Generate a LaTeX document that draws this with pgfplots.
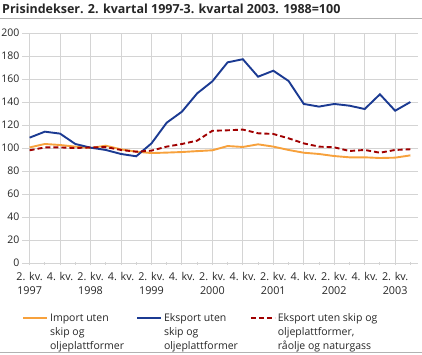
\documentclass[border=0pt]{standalone}
\usepackage{fontspec}
\setmainfont{Open Sans}
\usepackage{pgfplots}
\pgfplotsset{compat=1.18}
\definecolor{ssborange}{HTML}{F7A13C}
\definecolor{ssbblue}{HTML}{1B3A92}
\definecolor{ssbred}{HTML}{A00000}
\definecolor{gridgray}{HTML}{D4D4D4}
\definecolor{txt}{HTML}{262626}

\pgfplotstableread{
i imp eks eksr
0 100.5 109 98
1 103.5 114.2 100.5
2 102.6 112.5 100.5
3 101.2 103.5 100
4 100 100.3 100.5
5 102 98.3 100.8
6 98.8 94.8 98.3
7 96.8 92.8 96.8
8 95.6 104 97.7
9 96 122 101.2
10 96.5 131.6 103.5
11 97.3 147.5 106.4
12 98 158 115
13 101.7 174.5 115.4
14 100.9 177.2 116
15 103.2 162 112.8
16 101.2 167.2 112.2
17 98.3 158.3 108.4
18 95.9 138.3 104
19 94.8 136 101.2
20 93 138.3 100.6
21 91.9 136.8 97.4
22 91.9 133.9 98.3
23 91.3 146.7 95.9
24 91.6 132.4 98.3
25 93.6 140 98.9
}\datatable

\begin{document}
\begin{tikzpicture}[x=1pt,y=1pt]
\useasboundingbox (0,0) rectangle (422,354);
\node[anchor=base west, inner sep=0, font=\bfseries\fontsize{12.5}{14}\selectfont, text=txt] at (2,340.5) {Prisindekser. 2. kvartal 1997-3. kvartal 2003. 1988=100};
\draw[gray!60, line width=1pt] (0,335) -- (422,335);
\draw[gray!60, line width=1pt] (0,2) -- (422,2);
\begin{axis}[
  at={(22pt,91pt)}, anchor=south west,
  scale only axis, width=396pt, height=230pt,
  xmin=-0.5, xmax=25.5, ymin=0, ymax=200,
  ytick={0,20,...,200},
  xtick={0,2,...,24},
  minor xtick={1,3,...,25},
  xticklabels={{2. kv.\\1997},{4. kv.},{2. kv.\\1998},{4. kv.},{2. kv.\\1999},{4. kv.},{2. kv.\\2000},{4. kv.},{2. kv.\\2001},{4. kv.},{2. kv.\\2002},{4. kv.},{2. kv.\\2003}},
  xticklabel style={align=center, font=\fontsize{10.8}{14.5}\selectfont, text=txt, inner xsep=0pt, yshift=-3.5pt},
  yticklabel style={font=\fontsize{10.5}{12}\selectfont, text=txt, xshift=1pt},
  /pgf/number format/assume math mode=true,
  axis line style={draw=none},
  xmajorgrids, ymajorgrids,
  major grid style={gridgray, line width=0.9pt},
  tick style={gridgray, line width=0.9pt},
  ytick style={draw=none},
  xtick pos=bottom,
  major tick length=4pt, minor tick length=3pt,
  xtick align=center,
  legend style={at={(axis description cs:0,-0.21)}, anchor=north west, draw=none, fill=none,
    legend columns=3, inner sep=0pt,
    font=\fontsize{10.5}{14}\selectfont, text=txt,
    /tikz/every even column/.append style={column sep=4pt}},
  legend cell align=left,
  legend image code/.code={\draw[#1] (0pt,0pt) -- (24pt,0pt);},
]
\addplot[ssborange, line width=1.9pt] table[x=i, y=imp] {\datatable};
\addlegendentry{\parbox[t]{80pt}{\raggedright Import uten\\skip og\\oljeplattformer}}
\addplot[ssbblue, line width=1.9pt] table[x=i, y=eks] {\datatable};
\addlegendentry{\parbox[t]{80pt}{\raggedright Eksport uten\\skip og\\oljeplattformer}}
\addplot[ssbred, line width=1.9pt, dash pattern=on 5pt off 3pt] table[x=i, y=eksr] {\datatable};
\addlegendentry{\parbox[t]{120pt}{\raggedright Eksport uten skip og\\oljeplattformer,\\råolje og naturgass}}
\end{axis}
\end{tikzpicture}
\end{document}
